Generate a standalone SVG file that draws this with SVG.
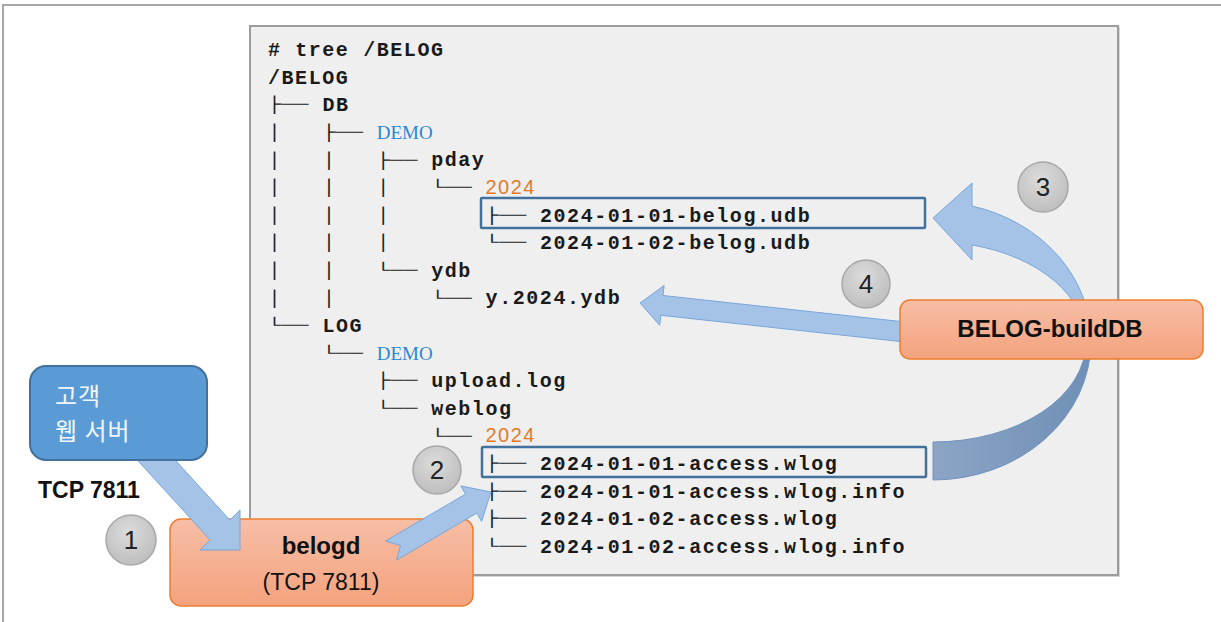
<svg xmlns="http://www.w3.org/2000/svg" width="1221" height="622" viewBox="0 0 1221 622">
<defs>
<style>
.t{font-family:"Liberation Mono","DejaVu Sans Mono",monospace;font-weight:bold;font-size:20px;letter-spacing:1.56px;fill:#1a1a1a}
.c{font-family:"Liberation Mono","DejaVu Sans Mono",monospace;font-size:22.6px;fill:#222;transform-box:fill-box;transform-origin:center;transform:scaleY(0.72)}
.demo{font-family:"Liberation Serif",serif;font-size:19px;fill:#2e86d4}
.yr{font-family:"Liberation Sans",sans-serif;font-size:20px;letter-spacing:1.4px;fill:#e07b2e}
.hl{fill:none;stroke:#41719c;stroke-width:2.5}
.arr{fill:#a4c3e7;stroke:#78a6da;stroke-width:1}
.num{font-family:"Liberation Sans",sans-serif;font-size:26px;fill:#222;text-anchor:middle}
.circ{fill:url(#gc);stroke:#a8a8a8;stroke-width:1.5}
.onode{fill:url(#go);stroke:#ed7d31;stroke-width:1.5}
.lbl{font-family:"Liberation Sans",sans-serif;fill:#111;text-anchor:middle}
.kr{font-family:"Noto Sans CJK KR",sans-serif;font-size:24px;letter-spacing:1px;fill:#f2f6fb}
</style>
<radialGradient id="gc" cx="0.45" cy="0.35" r="0.7">
<stop offset="0" stop-color="#dcdcdc"/><stop offset="1" stop-color="#bcbcbc"/>
</radialGradient>
<linearGradient id="go" x1="0" y1="0" x2="0" y2="1">
<stop offset="0" stop-color="#f7bea6"/><stop offset="1" stop-color="#f4a27d"/>
</linearGradient>
<linearGradient id="gdark" x1="0" y1="0" x2="1" y2="0">
<stop offset="0" stop-color="#8ca5c5"/><stop offset="1" stop-color="#6f8fb6"/>
</linearGradient>
<linearGradient id="glight" x1="0" y1="0" x2="1" y2="0">
<stop offset="0" stop-color="#a6c6ea"/><stop offset="1" stop-color="#9bbde3"/>
</linearGradient>
</defs>

<rect x="0" y="0" width="1221" height="622" fill="#ffffff"/>
<path d="M3,622 V5 H1221" fill="none" stroke="#a6a6a6" stroke-width="2"/>

<g id="tree-panel">
<rect x="251" y="27" width="869" height="550" fill="#d6d6d6"/>
<rect x="250" y="26" width="868" height="549" fill="#efefef" stroke="#9c9c9c" stroke-width="2"/>
<g id="tree-text">
<text class="t" x="268" y="56">#</text><text class="t" x="295.2" y="56">tree</text><text class="t" x="363.2" y="56">/BELOG</text>
<text class="t" x="268" y="83.6">/BELOG</text>
<text class="c" x="268" y="111.2">├──</text><text class="t" x="322.4" y="111.2">DB</text>
<text class="c" x="268" y="138.8">│</text><text class="c" x="322.4" y="138.8">├──</text><text class="demo" x="376.8" y="138.8">DEMO</text>
<text class="c" x="268" y="166.4">│</text><text class="c" x="322.4" y="166.4">│</text><text class="c" x="376.8" y="166.4">├──</text><text class="t" x="431.2" y="166.4">pday</text>
<text class="c" x="268" y="194">│</text><text class="c" x="322.4" y="194">│</text><text class="c" x="376.8" y="194">│</text><text class="c" x="431.2" y="194">└──</text><text class="yr" x="485.6" y="194">2024</text>
<text class="c" x="268" y="221.6">│</text><text class="c" x="322.4" y="221.6">│</text><text class="c" x="376.8" y="221.6">│</text><text class="c" x="485.6" y="221.6">├──</text><text class="t" x="540" y="221.6">2024-01-01-belog.udb</text>
<text class="c" x="268" y="249.2">│</text><text class="c" x="322.4" y="249.2">│</text><text class="c" x="376.8" y="249.2">│</text><text class="c" x="485.6" y="249.2">└──</text><text class="t" x="540" y="249.2">2024-01-02-belog.udb</text>
<text class="c" x="268" y="276.8">│</text><text class="c" x="322.4" y="276.8">│</text><text class="c" x="376.8" y="276.8">└──</text><text class="t" x="431.2" y="276.8">ydb</text>
<text class="c" x="268" y="304.4">│</text><text class="c" x="322.4" y="304.4">│</text><text class="c" x="431.2" y="304.4">└──</text><text class="t" x="485.6" y="304.4">y.2024.ydb</text>
<text class="c" x="268" y="332">└──</text><text class="t" x="322.4" y="332">LOG</text>
<text class="c" x="322.4" y="359.6">└──</text><text class="demo" x="376.8" y="359.6">DEMO</text>
<text class="c" x="376.8" y="387.2">├──</text><text class="t" x="431.2" y="387.2">upload.log</text>
<text class="c" x="376.8" y="414.8">└──</text><text class="t" x="431.2" y="414.8">weblog</text>
<text class="c" x="431.2" y="442.4">└──</text><text class="yr" x="485.6" y="442.4">2024</text>
<text class="c" x="485.6" y="470">├──</text><text class="t" x="540" y="470">2024-01-01-access.wlog</text>
<text class="c" x="485.6" y="497.6">├──</text><text class="t" x="540" y="497.6">2024-01-01-access.wlog.info</text>
<text class="c" x="485.6" y="525.2">├──</text><text class="t" x="540" y="525.2">2024-01-02-access.wlog</text>
<text class="c" x="485.6" y="552.8">└──</text><text class="t" x="540" y="552.8">2024-01-02-access.wlog.info</text>
</g>
<rect id="hl-udb" class="hl" x="481" y="198" width="444" height="30" rx="1"/>
<rect id="hl-wlog" class="hl" x="482" y="447" width="444" height="30" rx="1"/>
</g>

<g id="node-belogd">
<rect class="onode" x="170" y="519" width="303" height="87" rx="11"/>
<text class="lbl" x="321" y="554" font-size="24" font-weight="bold">belogd</text>
<text class="lbl" x="321" y="590" font-size="23">(TCP 7811)</text>
</g>

<g id="connectors">
<polygon id="arrow-1" class="arr" points="147.9,430.1 229.9,520.1 240,510 240,550 200,550 210.1,539.9 128.1,449.9"/>
<polygon id="arrow-2" class="arr" points="385.4,541 465.6,494.1 460.8,485.9 491,492 481.6,521.3 476.8,513.1 396.6,560 400.6,545.5"/>
<path id="arrow-3-lower" d="M933,480 A158 139 0 0 0 1091,341 L1086,342 A153 100 0 0 1 933,442 Z" fill="url(#gdark)" stroke="#6f93bf" stroke-width="1"/>
<path id="arrow-3-upper" class="arr" d="M1091,341 A158 139 0 0 0 972,206 L972,183 L933,218 L972,260 L972,245 A153 100 0 0 1 1086,342 Z" fill="url(#glight)"/>
<polygon id="arrow-4" class="arr" points="906.1,322.1 663,295.5 664.1,285.5 640,303 659.7,325.3 660.8,315.3 903.9,341.9"/>
</g>

<g id="node-client">
<rect x="30" y="366" width="177" height="94" rx="16" fill="#5b9bd5" stroke="#41719c" stroke-width="2"/>
<text class="kr" x="55" y="405">고객</text>
<text class="kr" x="55" y="440">웹 서버</text>
</g>

<g id="node-builddb">
<rect class="onode" x="900" y="300" width="303" height="59" rx="10"/>
<text class="lbl" x="1050" y="337" font-size="24" font-weight="bold">BELOG-buildDB</text>
</g>

<text id="label-tcp" x="38" y="498" font-family="'Liberation Sans',sans-serif" font-size="23" font-weight="bold" fill="#111">TCP 7811</text>

<g id="step-1"><circle class="circ" cx="131" cy="540" r="25"/><text class="num" x="131" y="549">1</text></g>
<g id="step-2"><circle class="circ" cx="437" cy="470" r="24"/><text class="num" x="437" y="479">2</text></g>
<g id="step-3"><circle class="circ" cx="1043" cy="187" r="25"/><text class="num" x="1043" y="196">3</text></g>
<g id="step-4"><circle class="circ" cx="866" cy="284" r="24"/><text class="num" x="866" y="293">4</text></g>
</svg>
